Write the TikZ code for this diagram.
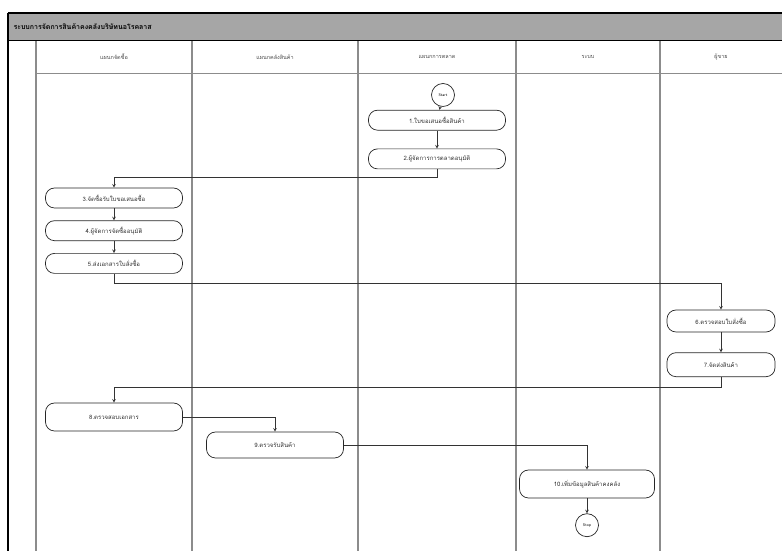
\documentclass[tikz,border=0pt]{standalone}
\usepackage{fontspec}
\newfontfamily\thaifont[Script=Thai]{Loma}
\usetikzlibrary{positioning,calc}

\begin{document}
\begin{tikzpicture}[x=1pt,y=1pt,node distance=12pt]
		\tikzstyle{activity} = [rectangle, rounded corners=9pt, minimum width=137pt, minimum height=20pt, text centered, draw=black!85, line width=0.7pt, font=\thaifont\fontsize{6}{7}\selectfont, text=black!80, inner sep=1pt]
		\tikzstyle{terminal} = [circle, minimum size=23pt, draw=black!85, line width=0.7pt, font=\sffamily\fontsize{4}{5}\selectfont, inner sep=0pt]
		\tikzstyle{laneHead} = [font=\thaifont\fontsize{5.5}{6}\selectfont, text=black!70]
		\tikzstyle{lane} = [draw=black!45, line width=1.2pt]
		\tikzstyle{flow} = [draw=black!80, line width=0.6pt, ->, >=stealth]
		
		\useasboundingbox (0,0) rectangle (782,551);
		
		% pool frame and title bar
		\fill[black!35] (8,510) rectangle (782,538);
		\draw[line width=1pt] (8,510) -- (782,510);
		\draw[line width=1.4pt] (8,538) -- (782,538);
		\draw[line width=1.8pt] (8,0) -- (8,538);
		\node (poolTitle) [anchor=west, font=\thaifont\bfseries\fontsize{7}{8}\selectfont] at (10,524) {ระบบการจัดการสินค้าคงคลังบริษัทนอโรคลาส};
		
		% lanes
		\draw[lane] (36,0) -- (36,510);
		\draw[lane] (192,0) -- (192,510);
		\draw[lane] (358,0) -- (358,510);
		\draw[lane] (516,0) -- (516,510);
		\draw[lane] (660,0) -- (660,510);
		\draw[lane, line width=1pt] (36,477) -- (782,477);
		
		\node (purchaseLane) [laneHead] at (114,494) {แผนกจัดซื้อ};
		\node (warehouseLane) [laneHead] at (275,494) {แผนกคลังสินค้า};
		\node (marketingLane) [laneHead] at (437,494) {แผนกการตลาด};
		\node (systemLane) [laneHead] at (588,494) {ระบบ};
		\node (vendorLane) [laneHead] at (721,494) {ผู้ขาย};
		
		% marketing
		\node (startNode) [terminal] at (443,456) {Start};
		\node (purchaseRequest) [activity, below = 3pt of startNode.south -| marketingLane, anchor=north] {1.ใบขอเสนอซื้อสินค้า};
		\node (marketingApprove) [activity, below = 18pt of purchaseRequest] {2.ผู้จัดการการตลาดอนุมัติ};
		
		% purchasing
		\begin{scope}[node distance=12pt]
			\node (receiveRequest) [activity] at (114,353) {3.จัดซื้อรับใบขอเสนอซื้อ};
			\node (purchaseApprove) [activity, below = of receiveRequest] {4.ผู้จัดการจัดซื้ออนุมัติ};
			\node (sendOrder) [activity, below = of purchaseApprove] {5.ส่งเอกสารใบสั่งซื้อ};
		\end{scope}
		
		% vendor
		\node (checkOrder) [activity, minimum width=108pt, minimum height=22pt] at (721,230) {6.ตรวจสอบใบสั่งซื้อ};
		\node (shipGoods) [activity, minimum width=108pt, minimum height=24pt, below = 20pt of checkOrder] {7.จัดส่งสินค้า};
		
		% warehouse and system
		\node (checkDocs) [activity, minimum height=28pt] at (114,134) {8.ตรวจสอบเอกสาร};
		\node (receiveGoods) [activity, minimum height=26pt] at (275,106) {9.ตรวจรับสินค้า};
		\node (updateStock) [activity, minimum width=135pt, minimum height=28pt] at (587,67) {10.เพิ่มข้อมูลสินค้าคงคลัง};
		\node (stopNode) [terminal, below = 15pt of updateStock] {Stop};
		
		\draw [flow] (startNode) -- (purchaseRequest);
		\draw [flow] (purchaseRequest) -- (marketingApprove);
		\draw [flow] (marketingApprove.south) -- ++(0,-8) -| (receiveRequest.north);
		\draw [flow] (receiveRequest) -- (purchaseApprove);
		\draw [flow] (purchaseApprove) -- (sendOrder);
		\draw [flow] (sendOrder.south) -- ++(0,-10) -| (checkOrder.north);
		\draw [flow] (checkOrder) -- (shipGoods);
		\draw [flow] (shipGoods.south) -- ++(0,-10) -| (checkDocs.north);
		\draw [flow] (checkDocs.east) -| (receiveGoods.north);
		\draw [flow] (receiveGoods.east) -| (updateStock.north);
		\draw [flow] (updateStock) -- (stopNode);
	
	\end{tikzpicture}
\end{document}
